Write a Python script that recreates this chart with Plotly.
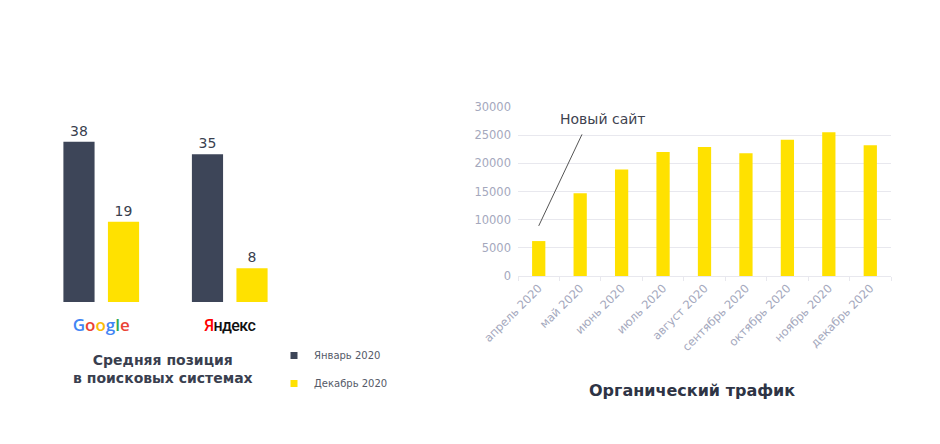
import plotly.graph_objects as go  # type: ignore

# Средняя позиция в поисковых системах
engines = ["Google", "Яндекс"]
positions_jan = [38, 35]
positions_dec = [19, 8]
legend_names = ["Январь 2020", "Декабрь 2020"]

# Органический трафик
months = ["апрель 2020", "май 2020", "июнь 2020", "июль 2020", "август 2020",
          "сентябрь 2020", "октябрь 2020", "ноябрь 2020", "декабрь 2020"]
traffic = [6200, 14700, 18900, 22000, 22900, 21800, 24200, 25500, 23200]
traffic_ticks = [0, 5000, 10000, 15000, 20000, 25000, 30000]

DARK = "#3d4558"
YELLOW = "#ffe100"
TEXT = "#3a3f4f"
MUTED = "#a4a8bd"
GRID = "#e8e8ee"
FONT = "DejaVu Sans"


def logo_labels() -> list:
    """ Подписи-логотипы под столбцами """
    g_colors = ["#4285f4", "#ea4335", "#fbbc05", "#4285f4", "#34a853", "#ea4335"]
    google = "".join(
        f'<span style="color:{c}">{ch}</span>' for ch, c in zip("Google", g_colors)
    )
    google = f'<span style="font-family:Open Sans;font-weight:600">{google}</span>'
    yandex = ('<span style="font-family:Roboto;font-weight:500;font-size:16px;'
              'letter-spacing:-0.6px">'
              '<span style="color:#ff0000">Я</span>'
              '<span style="color:#111111">ндекс</span></span>')
    return [google, yandex]


def add_position_bars(fig: go.Figure) -> None:
    """ Левая диаграмма: позиции в поиске """
    for vals, color in ((positions_jan, DARK), (positions_dec, YELLOW)):
        fig.add_trace(go.Bar(
            x=engines, y=vals, marker=dict(color=color, line=dict(width=0)),
            text=vals, textposition="outside", cliponaxis=False,
            textfont=dict(size=14, color=TEXT, family=FONT),
            showlegend=False, xaxis="x", yaxis="y",
        ))
    # легенда с маленькими квадратами
    for name, color in zip(legend_names, (DARK, YELLOW)):
        fig.add_trace(go.Scatter(
            x=[None], y=[None], mode="markers", name=name,
            marker=dict(symbol="square", size=7, color=color),
            legendgroup=name, xaxis="x", yaxis="y",
        ))


def add_traffic_bars(fig: go.Figure) -> None:
    """ Правая диаграмма: органический трафик """
    fig.add_trace(go.Bar(
        x=months, y=traffic, marker=dict(color=YELLOW, line=dict(width=0)),
        width=0.32, showlegend=False, xaxis="x2", yaxis="y2",
    ))


def update_layout(fig: go.Figure) -> None:
    fig.update_layout(
        width=940, height=444,
        margin=dict(l=0, r=0, t=0, b=0, autoexpand=False),
        paper_bgcolor="white", plot_bgcolor="white",
        font=dict(family=FONT, color=TEXT),
        barmode="group", bargap=0.307, bargroupgap=0.30,
        xaxis=dict(
            domain=[37 / 940, 294 / 940], range=[-0.5, 1.5], automargin=False,
            tickvals=engines, ticktext=logo_labels(),
            tickfont=dict(size=17), ticklabelstandoff=11,
            showgrid=False, showline=False, zeroline=False, ticks="",
        ),
        yaxis=dict(
            domain=[1 - 302 / 444, 1 - 110 / 444], range=[0, 45.5],
            visible=False, automargin=False,
        ),
        xaxis2=dict(
            domain=[518 / 940, 891 / 940], anchor="y2", automargin=False,
            tickangle=-45, tickfont=dict(size=11.5, color=MUTED),
            showline=True, linecolor=GRID, linewidth=1,
            ticks="outside", tickson="boundaries", ticklen=4, tickcolor=GRID,
            showgrid=False, zeroline=False,
        ),
        yaxis2=dict(
            domain=[1 - 276 / 444, 1 - 107 / 444], anchor="x2", automargin=False,
            range=[0, 30000], tickvals=traffic_ticks, tickformat="d",
            tickfont=dict(size=11.5, color=MUTED), ticklabelstandoff=6,
            showgrid=True, gridcolor=GRID, zeroline=False, showline=False, ticks="",
        ),
        legend=dict(
            x=274 / 940, y=1 - 341 / 444, xanchor="left", yanchor="top",
            font=dict(size=10, color="#555a68"), tracegroupgap=9,
            bgcolor="rgba(0,0,0,0)",
        ),
        annotations=[
            dict(text="<b>Средняя позиция<br>в поисковых системах</b>",
                 xref="paper", yref="paper", x=163 / 940, y=1 - 369 / 444,
                 xanchor="center", yanchor="middle",
                 showarrow=False, font=dict(size=14, color=TEXT)),
            dict(text="<b>Органический трафик</b>",
                 xref="paper", yref="paper", x=692 / 940, y=1 - 390 / 444,
                 xanchor="center", yanchor="middle",
                 showarrow=False, font=dict(size=16, color="#2e3445")),
            # выноска: линия и подпись отдельно
            dict(text="", xref="x2", yref="y2", x=months[0], y=8900,
                 ax=44, ay=-93, showarrow=True, arrowhead=0, arrowwidth=1,
                 arrowcolor="#555555"),
            dict(text="Новый сайт", xref="x2", yref="y2", x=months[0], y=27800,
                 xanchor="left", yanchor="middle", xshift=19, showarrow=False,
                 font=dict(size=14, color="#3f4350")),
        ],
    )


def main():
    fig = go.Figure()
    add_position_bars(fig)
    add_traffic_bars(fig)
    update_layout(fig)
    # убрать стандартный отступ body, чтобы график начинался с (0, 0)
    fig.write_html("out.html", config={"displayModeBar": False},
                   post_script="document.body.style.margin='0';")


if __name__ == "__main__":
    main()
